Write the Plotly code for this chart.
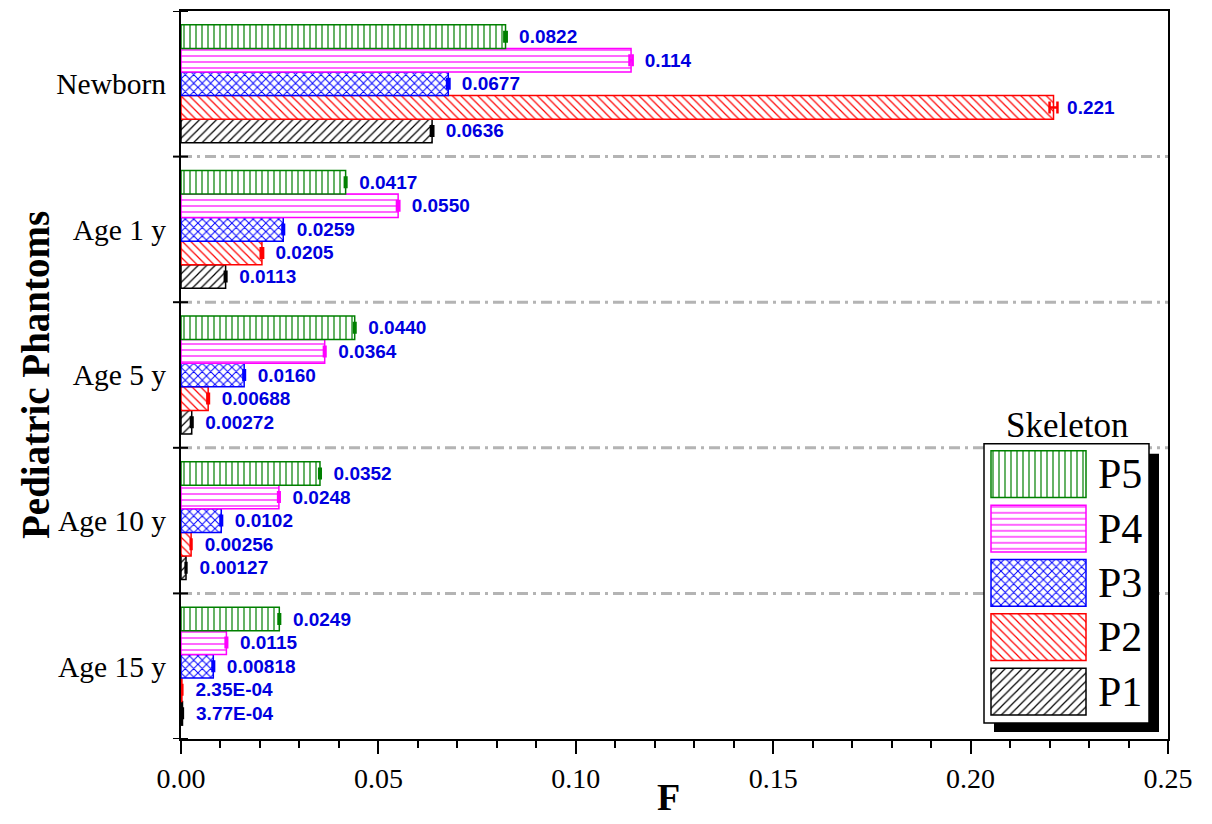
import plotly.graph_objects as go

# ---- data -------------------------------------------------------------
phantoms = ["Newborn", "Age 1 y", "Age 5 y", "Age 10 y", "Age 15 y"]
series_names = ["P1", "P2", "P3", "P4", "P5"]

p1_values = [0.0636, 0.0113, 0.00272, 0.00127, 3.77e-4]
p2_values = [0.221, 0.0205, 0.00688, 0.00256, 2.35e-4]
p3_values = [0.0677, 0.0259, 0.0160, 0.0102, 0.00818]
p4_values = [0.114, 0.0550, 0.0364, 0.0248, 0.0115]
p5_values = [0.0822, 0.0417, 0.0440, 0.0352, 0.0249]

p1_labels = ["0.0636", "0.0113", "0.00272", "0.00127", "3.77E-04"]
p2_labels = ["0.221", "0.0205", "0.00688", "0.00256", "2.35E-04"]
p3_labels = ["0.0677", "0.0259", "0.0160", "0.0102", "0.00818"]
p4_labels = ["0.114", "0.0550", "0.0364", "0.0248", "0.0115"]
p5_labels = ["0.0822", "0.0417", "0.0440", "0.0352", "0.0249"]

p1_errors = [0.0003, 0.0002, 0.0002, 0.0001, 0.0001]
p2_errors = [0.0010, 0.0003, 0.0002, 0.0001, 0.0001]
p3_errors = [0.0003, 0.0002, 0.0002, 0.0002, 0.0002]
p4_errors = [0.0004, 0.0003, 0.0002, 0.0002, 0.0002]
p5_errors = [0.0003, 0.0002, 0.0002, 0.0002, 0.0002]

x_ticks = [0.00, 0.05, 0.10, 0.15, 0.20, 0.25]

# ---- styling ----------------------------------------------------------
colors = ["#000000", "#ff0000", "#0000ff", "#ff00ff", "#008000"]
patterns = ["/", "\\", "x", "-", "|"]
solidities = [0.2, 0.2, 0.3, 0.2, 0.2]
SERIF = "Liberation Serif, Times New Roman, serif"
SANS = "Liberation Sans, Arial, sans-serif"
LABEL_BLUE = "#0000e0"

W, H = 1212, 824
ML, MR, MT, MB = 181, 44, 9, 85
PW, PH = W - ML - MR, H - MT - MB


def px_x(p):
    return (p - ML) / PW


def px_y(p):
    return (H - MB - p) / PH


all_values = [p1_values, p2_values, p3_values, p4_values, p5_values]
all_labels = [p1_labels, p2_labels, p3_labels, p4_labels, p5_labels]
all_errors = [p1_errors, p2_errors, p3_errors, p4_errors, p5_errors]

fig = go.Figure()

for name, vals, labs, errs, col, pat, sol in zip(series_names, all_values, all_labels,
                                                all_errors, colors, patterns, solidities):
    fig.add_trace(go.Bar(
        y=phantoms, x=vals, orientation="h", name=name, showlegend=False,
        marker=dict(color="white", line=dict(color=col, width=1.5),
                    pattern=dict(shape=pat, fgcolor=col, bgcolor="white",
                                 size=6, solidity=sol, fillmode="replace")),
        error_x=dict(type="data", array=errs, color=col, thickness=2.5, width=6),
        text=["\u00a0\u00a0" + t for t in labs],
        textposition="outside", constraintext="none", cliponaxis=False,
        textfont=dict(family=SANS, size=19, color=LABEL_BLUE, weight="bold"),
        xaxis="x", yaxis="y",
    ))

# legend drawn as a small inset of pattern swatches
for name, col, pat, sol in zip(series_names, colors, patterns, solidities):
    fig.add_trace(go.Bar(
        y=[name], x=[1], orientation="h", showlegend=False, hoverinfo="skip",
        width=0.86, offset=-0.43,
        marker=dict(color="white", line=dict(color=col, width=1.5),
                    pattern=dict(shape=pat, fgcolor=col, bgcolor="white",
                                 size=6, solidity=sol, fillmode="replace")),
        xaxis="x2", yaxis="y2",
    ))

shapes = []
# dash-dot separators between phantom groups
for b in [0.5, 1.5, 2.5, 3.5]:
    shapes.append(dict(type="line", xref="paper", yref="y", x0=0, x1=1, y0=b, y1=b,
                       line=dict(color="#b4b4b4", width=3, dash="11px,5px,3px,5px"),
                       layer="below"))
# legend shadow and box
shapes.append(dict(type="rect", xref="paper", yref="paper",
                   x0=px_x(994), x1=px_x(1159), y0=px_y(732), y1=px_y(453),
                   fillcolor="black", line=dict(width=0), layer="below"))
shapes.append(dict(type="rect", xref="paper", yref="paper",
                   x0=px_x(984), x1=px_x(1149), y0=px_y(723), y1=px_y(443),
                   fillcolor="white", line=dict(color="black", width=1.5), layer="below"))
# group boundary ticks crossing the category axis
for b in [-0.5, 0.5, 1.5, 2.5, 3.5, 4.5]:
    shapes.append(dict(type="line", xref="paper", yref="y", x0=-8 / PW, x1=7 / PW,
                       y0=b, y1=b, line=dict(color="black", width=2), layer="above"))

annotations = [
    dict(text="<b>Pediatric Phantoms</b>", xref="paper", yref="paper",
         x=px_x(35), y=0.5, xanchor="center", yanchor="middle",
         textangle=-90, showarrow=False,
         font=dict(family=SERIF, size=39, color="black")),
    dict(text="<b>F</b>", xref="paper", yref="paper",
         x=px_x(668), y=px_y(797), xanchor="center", yanchor="middle",
         showarrow=False, font=dict(family=SERIF, size=38, color="black")),
    dict(text="Skeleton", xref="paper", yref="paper",
         x=px_x(1067), y=px_y(425), xanchor="center", yanchor="middle",
         showarrow=False, font=dict(family=SERIF, size=35, color="black")),
]
for name in series_names:
    annotations.append(dict(text=name, xref="x2", yref="y2", x=1.11, y=name,
                            xanchor="left", yanchor="middle", showarrow=False,
                            font=dict(family=SERIF, size=42, color="black")))

fig.update_layout(
    width=W, height=H,
    margin=dict(l=ML, r=MR, t=MT, b=MB),
    paper_bgcolor="white", plot_bgcolor="rgba(0,0,0,0)",
    barmode="group", bargap=0.19, bargroupgap=0,
    shapes=shapes, annotations=annotations,
    xaxis=dict(range=[0, 0.25], tickvals=x_ticks, tickformat=".2f",
               ticks="outside", ticklen=13, tickwidth=2, tickcolor="black",
               minor=dict(dtick=0.01, ticks="outside", ticklen=7, tickwidth=2,
                          tickcolor="black"),
               showline=True, linecolor="black", linewidth=2, mirror=True,
               showgrid=False, zeroline=False, ticklabelstandoff=0,
               tickfont=dict(family=SERIF, size=28, color="black")),
    yaxis=dict(type="category", categoryorder="array",
               categoryarray=list(reversed(phantoms)), range=[-0.5, 4.5],
               ticks="", ticklabelstandoff=7,
               showline=True, linecolor="black", linewidth=2, mirror=True,
               showgrid=False, zeroline=False,
               tickfont=dict(family=SERIF, size=29.5, color="black")),
    xaxis2=dict(domain=[px_x(984), px_x(1149)], anchor="y2",
                range=[-7 / 95, 158 / 95], visible=False),
    yaxis2=dict(domain=[px_y(723), px_y(443)], anchor="x2", type="category",
                categoryorder="array", categoryarray=series_names,
                range=[-0.58, 4.56], visible=False),
)

fig.write_html("out.html")
